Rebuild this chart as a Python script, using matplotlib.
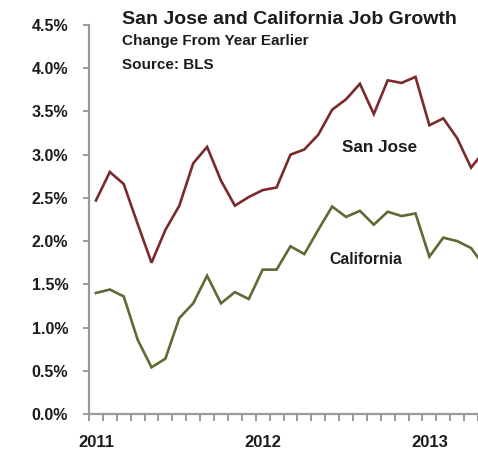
import matplotlib.pyplot as plt
import numpy as np

# Year-over-year job growth (%), monthly from Jan 2011
san_jose = [2.47, 2.80, 2.66, 2.20, 1.75, 2.13, 2.41, 2.90, 3.09, 2.70,
            2.41, 2.51, 2.59, 2.62, 3.00, 3.06, 3.23, 3.52, 3.64, 3.82,
            3.47, 3.86, 3.83, 3.90, 3.34, 3.42, 3.19, 2.85, 3.05]
california = [1.40, 1.44, 1.36, 0.86, 0.54, 0.64, 1.11, 1.28, 1.60, 1.28,
              1.41, 1.33, 1.67, 1.67, 1.94, 1.85, 2.13, 2.40, 2.28, 2.35,
              2.19, 2.34, 2.29, 2.32, 1.82, 2.04, 2.00, 1.92, 1.70]
years = ["2011", "2012", "2013"]
y_ticks = [0.0, 0.5, 1.0, 1.5, 2.0, 2.5, 3.0, 3.5, 4.0, 4.5]

plt.rcParams["font.family"] = ["Liberation Sans", "DejaVu Sans"]
plt.rcParams["font.weight"] = "bold"
TXT = "#1c1c1c"
GRAY = "#9a9a9a"
H = 455

fig = plt.figure(figsize=(4.78, 4.55), dpi=100)
ax = fig.add_axes([89 / 478, 1 - 414 / H, 1 - 89 / 478, (414 - 25) / H])

x = np.arange(len(san_jose)) + 0.5
ax.plot(x, san_jose, color="#7b2a2c", lw=1.9, solid_joinstyle="miter")
ax.plot(x, california, color="#5f6b34", lw=1.9, solid_joinstyle="miter")

ax.set_xlim(0, 28)
ax.set_ylim(0, 4.5)

for s in ["top", "right"]:
    ax.spines[s].set_visible(False)
for s in ["left", "bottom"]:
    ax.spines[s].set_color(GRAY)
    ax.spines[s].set_linewidth(1.6)

ax.set_yticks(y_ticks)
ax.set_yticklabels([f"{v:.1f}%" for v in y_ticks])
ax.tick_params(axis="y", length=4, width=1.4, color=GRAY, pad=11,
               labelsize=11.5, labelcolor=TXT)

# monthly ticks on the x axis, year labels centred on January
ax.set_xticks(np.arange(0, 29))
ax.set_xticklabels([])
ax.tick_params(axis="x", which="major", length=5, width=1.4, color=GRAY,
               direction="out")
ax.set_xticks([0.5, 12.5, 24.5], minor=True)
ax.set_xticklabels(years, minor=True)
ax.tick_params(axis="x", which="minor", length=0, pad=15, labelsize=12,
               labelcolor=TXT)

# series labels, placed in pixel coordinates
ax.text(380, H - 147, "San Jose", transform=None, fontsize=12.3, color=TXT,
        ha="center", va="center")
ax.text(366, H - 259, "California", transform=None, fontsize=11.3, color=TXT,
        ha="center", va="center")

fig.text(122 / 478, 1 - 19 / H, "San Jose and California Job Growth",
         fontsize=14, color=TXT, va="center", ha="left")
fig.text(122 / 478, 1 - 41.5 / H, "Change From Year Earlier",
         fontsize=11, color=TXT, va="center", ha="left")
fig.text(122 / 478, 1 - 65 / H, "Source: BLS",
         fontsize=11, color=TXT, va="center", ha="left")

fig.savefig("out.png", dpi=100)
